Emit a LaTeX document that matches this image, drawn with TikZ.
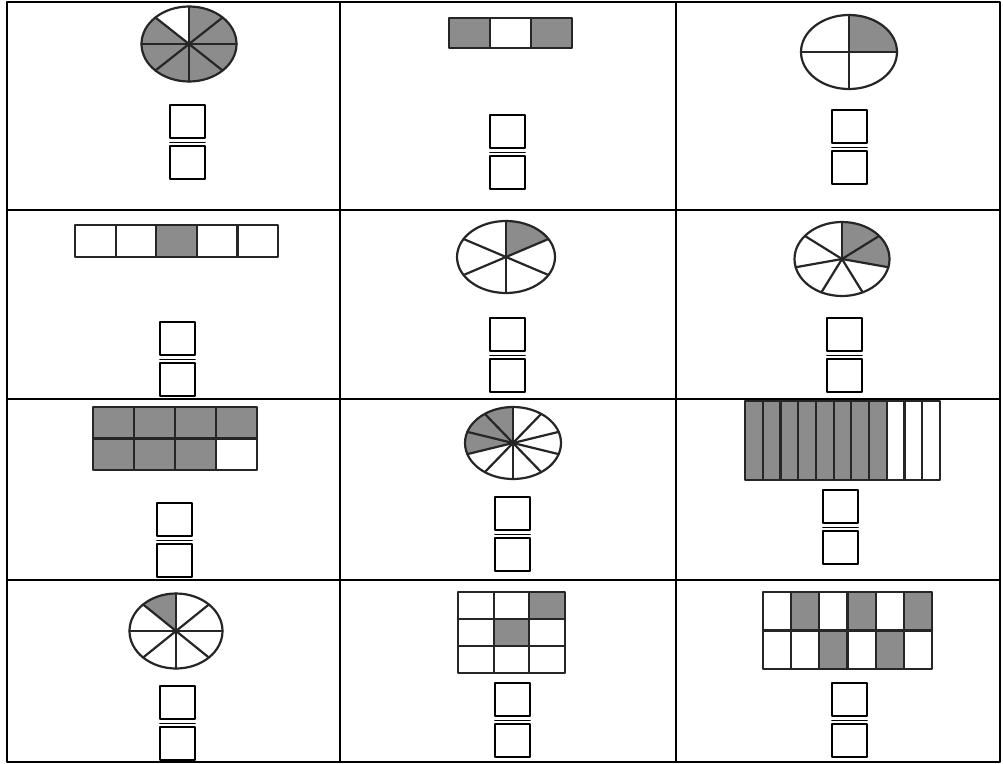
\documentclass[tikz,border=0pt]{standalone}
\definecolor{piegray}{RGB}{140,140,140}
\begin{document}
\begin{tikzpicture}[x=1pt,y=-1pt, line join=round, line cap=round,
  rule/.style={line width=1.4pt},
  part/.style={line width=2.2pt, black!85},
  answer/.style={line width=1.6pt}]
\useasboundingbox (0,0) rectangle (1003,763);
\fill[white] (0,0) rectangle (1003,763);
% table
\draw[rule] (7,2) rectangle (1000,762);
\draw[rule] (340,2)--(340,762) (676,2)--(676,762);
\draw[rule] (7,210)--(1000,210) (7,399)--(1000,399) (7,580)--(1000,580);

% row 1
\begin{scope}[shift={(189,44)}]
  \fill[piegray] (0,0) ellipse[x radius=47.5, y radius=37.5];
  \fill[white] (0,0) -- (-90:47.5 and 37.5) arc[start angle=-90, end angle=-135, x radius=47.5, y radius=37.5] -- cycle;
  \foreach \a in {0,45,...,315} \draw[part] (0,0) -- (\a:47.5 and 37.5);
  \draw[part] (0,0) ellipse[x radius=47.5, y radius=37.5];
\end{scope}
\fill[piegray] (449,18) rectangle (490,48) (531,18) rectangle (572,48);
\draw[part] (449,18) rectangle (572,48) (490,18)--(490,48) (531,18)--(531,48);
\begin{scope}[shift={(849,52)}]
  \fill[piegray] (0,0) -- (0:48 and 37) arc[start angle=0, end angle=-90, x radius=48, y radius=37] -- cycle;
  \foreach \a in {0,90,180,270} \draw[part] (0,0) -- (\a:48 and 37);
  \draw[part] (0,0) ellipse[x radius=48, y radius=37];
\end{scope}

% row 2
\fill[piegray] (156.2,225) rectangle (196.8,257);
\draw[part] (75,225) rectangle (278,257);
\foreach \x in {115.6,156.2,196.8,237.4} \draw[part] (\x,225) -- (\x,257);
\begin{scope}[shift={(506,257)}]
  \fill[piegray] (0,0) -- (-30:49 and 36) arc[start angle=-30, end angle=-90, x radius=49, y radius=36] -- cycle;
  \foreach \a in {30,90,...,330} \draw[part] (0,0) -- (\a:49 and 36);
  \draw[part] (0,0) ellipse[x radius=49, y radius=36];
\end{scope}
\begin{scope}[shift={(842,259)}]
  \fill[piegray] (0,0) -- (12.857:47.5 and 37) arc[start angle=12.857, end angle=-90, x radius=47.5, y radius=37] -- cycle;
  \foreach \k in {0,...,6} \draw[part] (0,0) -- (-90+\k*51.4286:47.5 and 37);
  \draw[part] (0,0) ellipse[x radius=47.5, y radius=37];
\end{scope}

% row 3
\fill[piegray] (93,407) rectangle (257,470);
\fill[white] (216,438.5) rectangle (257,470);
\draw[part] (93,407) rectangle (257,470) (93,438.5) -- (257,438.5);
\foreach \x in {134,175,216} \draw[part] (\x,407) -- (\x,470);
\begin{scope}[shift={(513,443)}]
  \fill[piegray] (0,0) -- (-90:48 and 36) arc[start angle=-90, end angle=-198, x radius=48, y radius=36] -- cycle;
  \foreach \k in {0,...,9} \draw[part] (0,0) -- (-90+\k*36:48 and 36);
  \draw[part] (0,0) ellipse[x radius=48, y radius=36];
\end{scope}
\fill[piegray] (745,401) rectangle (886.8,480);
\draw[part] (745,401) rectangle (940,480);
\foreach \k in {1,...,10} \draw[part] (745+\k*17.727,401) -- (745+\k*17.727,480);

% row 4
\begin{scope}[shift={(176,631)}]
  \fill[piegray] (0,0) -- (-90:46.5 and 37.5) arc[start angle=-90, end angle=-135, x radius=46.5, y radius=37.5] -- cycle;
  \foreach \a in {0,45,...,315} \draw[part] (0,0) -- (\a:46.5 and 37.5);
  \draw[part] (0,0) ellipse[x radius=46.5, y radius=37.5];
\end{scope}
\fill[piegray] (529.3,592) rectangle (565,619) (493.7,619) rectangle (529.3,646);
\draw[part] (458,592) rectangle (565,673) (458,619)--(565,619) (458,646)--(565,646);
\draw[part] (493.7,592)--(493.7,673) (529.3,592)--(529.3,673);
\fill[piegray] (791.2,592) rectangle (819.3,630.5) (847.5,592) rectangle (875.7,630.5) (903.8,592) rectangle (932,630.5);
\fill[piegray] (819.3,630.5) rectangle (847.5,669) (875.7,630.5) rectangle (903.8,669);
\draw[part] (763,592) rectangle (932,669) (763,630.5)--(932,630.5);
\foreach \x in {791.2,819.3,847.5,875.7,903.8} \draw[part] (\x,592) -- (\x,669);

% answer boxes
\foreach \x/\y in {170/105, 490/115, 832/110, 160/322, 490/318, 827/318,
                   157/503, 495/497, 823/490, 160/686, 495/683, 832/683} {
  \draw[answer] (\x,\y) rectangle ++(35,33);
  \draw[answer] (\x,\y+37.5) -- ++(35,0);
  \draw[answer] (\x,\y+41) rectangle ++(35,33);
}
\end{tikzpicture}
\end{document}
